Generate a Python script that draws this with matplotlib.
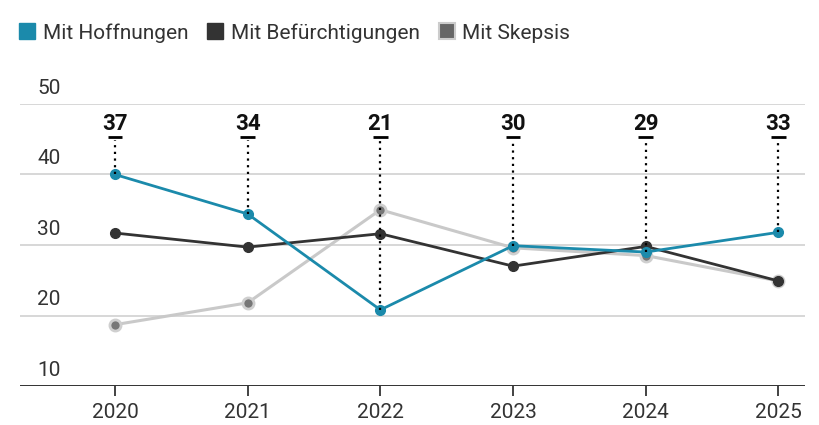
import matplotlib.pyplot as plt
from matplotlib.lines import Line2D

plt.rcParams['font.family'] = ['Roboto', 'DejaVu Sans']

years = [2020, 2021, 2022, 2023, 2024, 2025]
hoffnungen = [40.0, 34.4, 20.8, 29.9, 29.0, 31.8]
befuerchtungen = [31.7, 29.7, 31.6, 27.0, 29.8, 24.9]
skepsis = [18.7, 21.8, 35.0, 29.6, 28.5, 24.9]
top_labels = [37, 34, 21, 30, 29, 33]
yticks = [10, 20, 30, 40, 50]

c_hoff = '#1b8aab'
c_bef = '#333333'
c_skep = '#c9c9c9'

fig = plt.figure(figsize=(8.19, 4.25), dpi=100)
ax = fig.add_axes([20 / 819, 39 / 425, 785 / 819, 282 / 425])
ax.set_xlim(2019.284, 2025.2)
ax.set_ylim(10, 50)

# gridlines
for v in yticks[1:]:
    ax.axhline(v, color='#d4d4d4', lw=1.3, zorder=0)
ax.axhline(10, color='#222222', lw=1.3, zorder=1)

# y labels sit above the gridlines
ytrans = ax.get_yaxis_transform()
for v in yticks:
    ax.text(17 / 785, v + 0.9, str(v), transform=ytrans, ha='left', va='bottom',
            fontsize=15, color='#333333')

# lines
ax.plot(years, skepsis, color=c_skep, lw=2.2, zorder=2)
ax.plot(years, skepsis, ls='none', marker='o', ms=8, mfc='#777777',
        mec='#cfcfcf', mew=2, zorder=2)
ax.plot(years, befuerchtungen, color=c_bef, lw=2.0, marker='o', ms=7, zorder=3)
ax.plot(years, hoffnungen, color=c_hoff, lw=2.0, marker='o', ms=7, zorder=4)

# top numbers with dotted drop lines
for x, h, lab in zip(years, hoffnungen, top_labels):
    ax.vlines(x, h, 44.9, colors='black', linestyles=(0, (1, 2)), lw=1.6, zorder=5)
    ax.plot([x - 0.055, x + 0.055], [45.3, 45.3], color='black', lw=2, zorder=5,
            solid_capstyle='butt')
    ax.text(x, 47.2, str(lab), ha='center', va='center', fontsize=16,
            fontweight='bold', color='#111111')

# x axis
for s in ax.spines.values():
    s.set_visible(False)
ax.set_yticks([])
ax.set_xticks(years)
ax.set_xticklabels([str(y) for y in years], fontsize=15, color='#333333')
ax.tick_params(axis='x', length=7, width=1.2, color='#222222', pad=5)

handles = [
    Line2D([], [], ls='none', marker='s', ms=12, mfc=c_hoff, mec=c_hoff),
    Line2D([], [], ls='none', marker='s', ms=12, mfc=c_bef, mec=c_bef),
    Line2D([], [], ls='none', marker='s', ms=12, mfc='#666666', mec='#cccccc', mew=1.5),
]
fig.legend(handles, ['Mit Hoffnungen', 'Mit Befürchtigungen', 'Mit Skepsis'],
           loc='upper left', bbox_to_anchor=(0.0, 0.99), ncol=3, frameon=False,
           fontsize=15, handlelength=0.8, handletextpad=0.35, columnspacing=0.9,
           labelcolor='#333333', borderaxespad=0.5)

fig.savefig('out.png', dpi=100)
